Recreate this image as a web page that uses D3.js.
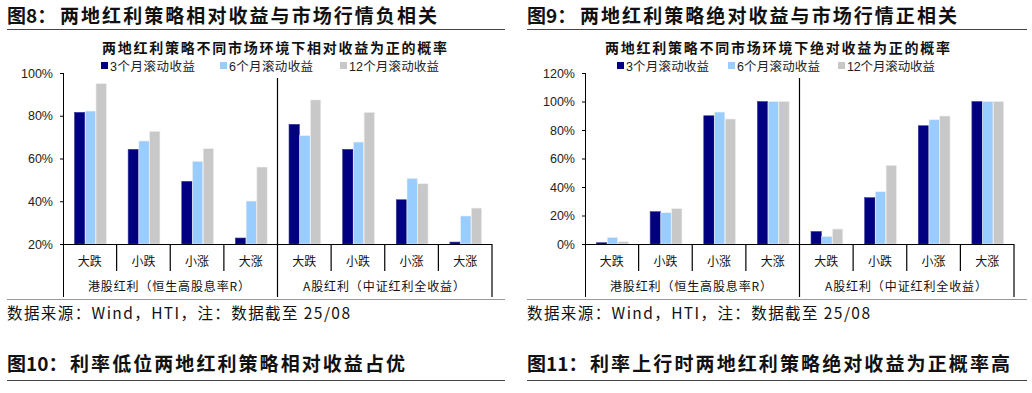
<!DOCTYPE html>
<html><head><meta charset="utf-8">
<script src="https://cdn.jsdelivr.net/npm/d3@7"></script>
<style>
html,body{margin:0;padding:0;background:#fff;}
svg{display:block;}
text{font-family:"Liberation Sans",Arial,"Noto Sans CJK SC",sans-serif;}
.cjk{font-family:"Noto Sans CJK SC",sans-serif;}
</style>
</head><body>
<svg id="c" width="1032" height="393"></svg>
<script>
// ---- data ----
const categories = ["大跌","小跌","小涨","大涨"];
const groups = ["港股红利（恒生高股息率R）","A股红利（中证红利全收益）"];
const seriesNames = ["3个月滚动收益","6个月滚动收益","12个月滚动收益"];
const seriesColors = ["#000080","#99CCFF","#C8C8C8"];
// relative return positive probability (%), HK 4 then A 4
const rel3m  = [81.6,64.3,49.3,22.8, 76.0,64.3,40.7,20.9];
const rel6m  = [82.2,68.2,58.7,40.1, 70.7,67.7,50.7,33.1];
const rel12m = [95.0,72.7,64.6,56.0, 87.4,81.6,48.2,36.8];
// absolute return positive probability (%)
const abs3m  = [0.9,22.7,90.0,100, 8.8,32.5,83.0,100];
const abs6m  = [4.6,22.0,92.6,100, 5.3,36.7,87.2,100];
const abs12m = [1.6,24.8,87.7,100, 10.5,55.2,89.8,100];
const relTicks = [20,40,60,80,100];
const absTicks = [0,20,40,60,80,100,120];

const svg = d3.select("#c");

function drawPanel(o){
  const g = svg.append("g").attr("transform",`translate(${o.ox},0)`);
  // figure title
  const t = g.append("text").attr("class","cjk").attr("x",7).attr("y",23)
    .attr("font-size",19).attr("font-weight","bold").attr("fill","#111");
  t.append("tspan").text(o.fig);
  t.append("tspan").attr("x",60).text(o.title).attr("textLength",o.titleLen).attr("lengthAdjust","spacing");
  g.append("line").attr("x1",7).attr("x2",o.lineEnd).attr("y1",29.5).attr("y2",29.5).attr("stroke","#444").attr("stroke-width",1);

  // chart subtitle
  g.append("text").attr("class","cjk").attr("x",o.subX).attr("y",53).attr("font-size",14)
    .attr("font-weight","bold").attr("fill","#111").attr("textLength",o.subLen).attr("lengthAdjust","spacing").text(o.sub);

  // legend
  seriesNames.forEach((s,i)=>{
    const lx = o.legX[i];
    g.append("rect").attr("x",lx).attr("y",62).attr("width",7).attr("height",7).attr("fill",seriesColors[i]);
    g.append("text").attr("x",lx+9).attr("y",70.5).attr("font-size",12.5).attr("fill","#222")
      .attr("textLength",o.legLen[i]).attr("lengthAdjust","spacing").text(s);
  });

  const L=o.L, R=o.R, T=73, B=244;
  const keys = d3.range(8);
  const x0 = d3.scaleBand().domain(keys).range([L,R]).paddingInner(0).paddingOuter(0);
  const x1 = d3.scaleBand().domain([0,1,2]).range([0,x0.bandwidth()]).paddingInner(0).paddingOuter(1);
  const y = d3.scaleLinear().domain(o.domain).range([B,T]);

  o.series.forEach((vals,si)=>{
    g.append("g").selectAll("rect").data(vals).join("rect")
      .attr("x",(d,i)=>x0(i)+x1(si)+0.8)
      .attr("width",x1.bandwidth()-0.4)
      .attr("y",d=>y(d))
      .attr("height",d=>B-y(d))
      .attr("fill",seriesColors[si])
      .attr("stroke",si===0?"#3a3a9a":"#eeeeee").attr("stroke-width",0.6);
  });

  // y axis
  const ya = d3.axisLeft(y).tickValues(o.ticks).tickSize(3).tickSizeOuter(0).tickFormat(d=>d+"%");
  const yg = g.append("g").attr("transform",`translate(${L},0)`).call(ya);
  yg.select(".domain").remove();
  yg.selectAll(".tick line").attr("stroke","#000");
  yg.selectAll(".tick text").attr("font-size",12.5).attr("fill","#222").attr("x",-10)
    .attr("font-family","'Liberation Sans',Arial,sans-serif");
  g.append("line").attr("x1",L+0.5).attr("x2",L+0.5).attr("y1",T).attr("y2",297).attr("stroke","#000");

  // x axis baseline
  g.append("line").attr("x1",L).attr("x2",R).attr("y1",B+0.5).attr("y2",B+0.5).attr("stroke","#000");
  // category separators
  keys.forEach(i=>{
    if(i===0) return;
    const xx = x0(i);
    if(i===4){
      g.append("line").attr("x1",xx).attr("x2",xx).attr("y1",78).attr("y2",297).attr("stroke","#000").attr("stroke-width",1.2);
    } else {
      g.append("line").attr("x1",xx).attr("x2",xx).attr("y1",B).attr("y2",271).attr("stroke","#000").attr("stroke-width",1.2);
    }
  });
  g.append("line").attr("x1",R).attr("x2",R).attr("y1",B).attr("y2",297).attr("stroke","#000").attr("stroke-width",1.2);

  // category labels
  g.append("g").selectAll("text").data(keys).join("text").attr("class","cjk")
    .attr("x",i=>x0(i)+x0.bandwidth()/2).attr("y",266).attr("text-anchor","middle")
    .attr("font-size",12).attr("fill","#111").attr("textLength",24).attr("lengthAdjust","spacing")
    .text(i=>categories[i%4]);
  // group labels
  groups.forEach((gr,gi)=>{
    g.append("text").attr("class","cjk").attr("x",o.grpX[gi]).attr("y",290.5)
      .attr("font-size",12).attr("fill","#111").attr("textLength",162).attr("lengthAdjust","spacing").text(gr);
  });

  // section line
  g.append("line").attr("x1",7).attr("x2",o.lineEnd).attr("y1",299.5).attr("y2",299.5).attr("stroke","#999").attr("stroke-width",1);
  // source
  g.append("text").attr("class","cjk").attr("x",7).attr("y",318.5).attr("font-size",15.5).attr("fill","#111")
    .attr("textLength",343).attr("lengthAdjust","spacing").text("数据来源：Wind，HTI，注：数据截至 25/08");

  // next figure title
  const t2 = g.append("text").attr("class","cjk").attr("x",7).attr("y",371)
    .attr("font-size",19).attr("font-weight","bold").attr("fill","#111");
  t2.append("tspan").text(o.fig2);
  t2.append("tspan").attr("x",o.fig2X).text(o.title2).attr("textLength",o.title2Len).attr("lengthAdjust","spacing");
  g.append("line").attr("x1",7).attr("x2",o.lineEnd).attr("y1",380.5).attr("y2",380.5).attr("stroke","#444").attr("stroke-width",1);
}

drawPanel({
  ox:0, L:63, R:492, fig:"图8：", title:"两地红利策略相对收益与市场行情负相关", titleLen:377, lineEnd:505,
  sub:"两地红利策略不同市场环境下相对收益为正的概率", subX:102, subLen:345,
  legX:[101,220,340], legLen:[85,84,90],
  domain:[20,100], ticks:relTicks, series:[rel3m,rel6m,rel12m],
  grpX:[88,303],
  fig2:"图10：", fig2X:70, title2:"利率低位两地红利策略相对收益占优", title2Len:335
});
drawPanel({
  ox:520, L:65, R:494, fig:"图9：", title:"两地红利策略绝对收益与市场行情正相关", titleLen:377, lineEnd:507,
  sub:"两地红利策略不同市场环境下绝对收益为正的概率", subX:85, subLen:345,
  legX:[97,208,318], legLen:[83,83,88],
  domain:[0,120], ticks:absTicks, series:[abs3m,abs6m,abs12m],
  grpX:[90,305],
  fig2:"图11：", fig2X:70, title2:"利率上行时两地红利策略绝对收益为正概率高", title2Len:420
});
</script>
</body></html>
